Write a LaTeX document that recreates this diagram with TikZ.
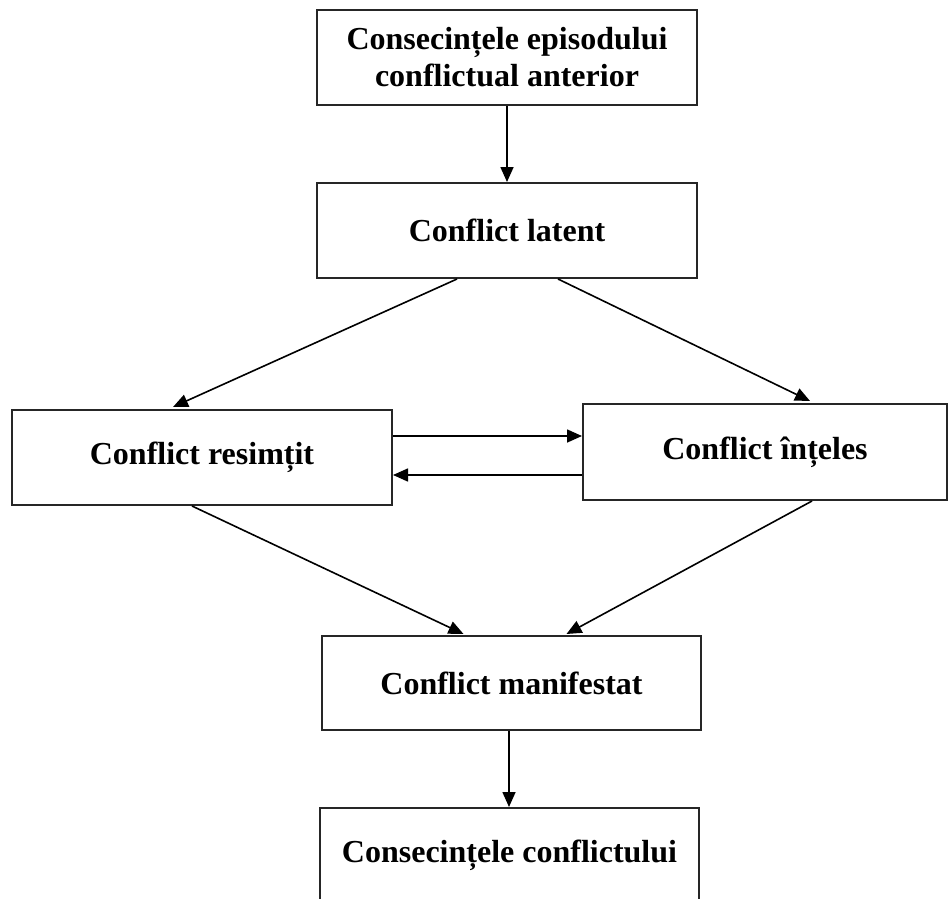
\documentclass[tikz,border=0pt]{standalone}
\usepackage{fontspec}
\setmainfont{Liberation Serif}
\usetikzlibrary{arrows.meta}

\begin{document}
\begin{tikzpicture}[x=1pt, y=-1pt,
  stagebox/.style={draw=black!85, line width=2pt, rectangle, align=center,
    inner sep=0pt, font=\fontsize{32}{37}\selectfont\bfseries},
  flow/.style={draw=black, line width=1.6pt,
    -{Triangle[length=15pt, width=13pt]}}]

  % page frame
  \useasboundingbox (0,0) rectangle (950,899);
  \clip (0,0) rectangle (950,899);

  % stages of the conflict episode
  \node[stagebox, minimum width=380pt, minimum height=95pt] (prev) at (507,57.5)
    {Consecințele episodului\\conflictual anterior};
  \node[stagebox, minimum width=380pt, minimum height=95pt] (lat) at (507,230.5)
    {Conflict latent};
  \node[stagebox, minimum width=380pt, minimum height=95pt] (res) at (202,457.5)
    {Conflict resimțit};
  \node[stagebox, minimum width=364pt, minimum height=96pt] (ints) at (765,452)
    {Conflict înțeles};
  \node[stagebox, minimum width=379pt, minimum height=94pt] (man) at (511.5,683)
    {Conflict manifestat};
  \node[stagebox, minimum width=379pt, minimum height=94pt] (cons) at (509.5,855)
    {Consecințele conflictului};

  % connectors
  \draw[flow] (prev.south) -- (lat.north);
  \draw[flow] ([xshift=-50pt]lat.south) -- ([xshift=-29pt,yshift=2pt]res.north);
  \draw[flow] ([xshift=51pt]lat.south) -- ([xshift=45pt,yshift=2pt]ints.north);
  \draw[flow] ([yshift=21.5pt]res.east) -- ([yshift=16pt]ints.west);
  \draw[flow] ([yshift=-23pt]ints.west) -- ([yshift=-17.5pt]res.east);
  \draw[flow] ([xshift=-10pt]res.south) -- ([xshift=-48pt,yshift=1pt]man.north);
  \draw[flow] ([xshift=47pt]ints.south) -- ([xshift=55pt,yshift=1pt]man.north);
  \draw[flow] ([xshift=-2.5pt]man.south) -- ([xshift=-0.5pt]cons.north);
\end{tikzpicture}
\end{document}
